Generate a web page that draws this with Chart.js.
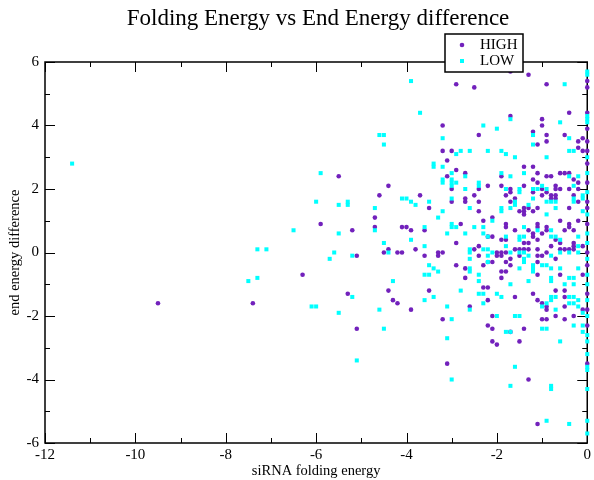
<!DOCTYPE html>
<html>
<head>
<meta charset="utf-8">
<script src="https://cdn.jsdelivr.net/npm/chart.js@4/dist/chart.umd.min.js"></script>
<style>
  html, body { margin: 0; padding: 0; background: #fff; }
  #wrap { width: 594px; height: 480px; }
</style>
</head>
<body>
<div id="wrap"><canvas id="c" width="594" height="480"></canvas></div>
<script>
// values: [siRNA folding energy, end energy difference]
const highPts = [
  [-9.5,-1.6],[-7.4,-1.6],
  [-3.2,4.0],[-3.2,3.2],[-3.1,2.9],[-5.5,2.4],[-3.1,2.4],[-4.4,2.1],[-4.6,1.8],[-3.7,1.8],[-3.5,1.4],
  [-4.7,1.1],[-5.9,0.9],[-5.2,0.7],[-4.7,0.8],[-4.1,0.8],[-4.0,0.8],[-3.9,0.7],[-3.6,0.7],[-4.4,0.1],[-3.8,0.1],
  [-5.1,-0.1],[-4.5,0.0],[-4.2,0.0],[-4.1,0.0],[-3.6,-0.1],[-3.3,0.0],[-3.2,0.0],[-3.3,-0.1],[-6.3,-0.7],
  [-5.3,-1.3],[-4.4,-1.2],[-3.5,-1.2],[-4.3,-1.5],[-4.2,-1.6],[-3.9,-1.8],[-3.2,-2.1],[-5.1,-2.4],[-3.1,-3.5],
  [-1.7,5.7],[-1.3,5.6],[-2.9,5.3],[-2.5,5.2],[-0.9,5.3],[-0.4,4.4],[-1.7,4.3],[-1.0,4.2],[-1.0,4.0],
  [-1.2,3.8],[-2.4,3.7],[-0.9,3.7],[-0.5,3.7],[-0.1,3.6],
  [-1.1,3.4],[-0.9,3.5],[-0.2,3.5],[-0.2,3.3],[-3.0,3.2],[-0.1,3.2],[-2.9,2.6],[-2.7,2.5],[-3.0,2.0],
  [-2.4,2.0],[-2.2,2.1],[-1.9,2.4],[-1.9,2.1],[-1.7,2.0],[-1.7,1.9],[-1.4,2.7],[-1.2,2.7],[-1.1,2.5],
  [-1.2,2.3],[-1.1,2.2],[-0.9,2.4],[-0.8,2.4],[-0.6,2.5],[-0.5,2.5],[-0.4,2.5],[-0.3,2.3],[-0.2,2.2],
  [-1.4,2.1],[-1.2,1.9],[-1.0,2.0],[-0.9,1.9],[-0.7,2.1],[-0.7,2.0],[-0.7,1.8],[-0.6,2.0],[-0.4,2.0],
  [-0.2,2.0],[-0.3,1.8],[-2.5,1.8],[-3.0,1.6],[-2.7,1.7],[-2.7,1.6],[-2.4,1.6],[-1.8,1.8],[-1.6,1.7],
  [-1.7,1.6],[-1.0,1.8],[-0.8,1.8],[-0.8,1.7],[-0.7,1.7],[-0.2,1.6],[-2.4,1.3],[-1.5,1.3],[-1.4,1.4],
  [-1.4,1.3],[-1.4,1.2],[-1.3,1.4],[-1.2,1.3],[-1.1,1.4],[-0.4,1.4],[-2.3,1.0],[-2.1,1.1],[-1.8,0.9],
  [-1.8,0.8],[-2.8,0.9],[-2.2,0.5],[-2.1,0.5],[-1.6,0.7],[-1.3,0.7],[-1.2,0.6],[-1.1,0.9],[-1.1,0.8],
  [-1.0,0.6],[-0.9,0.8],[-0.9,0.7],[-0.6,1.0],[-0.5,0.7],[-0.4,0.9],[-0.4,0.8],[-0.3,0.7],[-0.2,1.0],
  [-1.9,0.4],[-1.8,0.4],[-1.4,0.3],[-1.3,0.3],[-1.2,0.5],[-1.1,0.4],[-0.7,0.4],[-0.6,0.3],[-0.3,0.3],
  [-0.3,0.2],[-2.9,0.3],[-2.4,0.2],[-2.5,0.1],[-2.4,-0.1],[-2.0,0.0],[-1.9,0.0],[-1.8,0.0],[-2.0,-0.1],
  [-1.9,-0.1],[-1.6,0.1],[-1.5,0.1],[-1.4,0.1],[-1.3,0.1],[-1.5,-0.1],[-1.1,0.1],[-1.1,-0.1],[-1.0,-0.1],
  [-0.9,0.0],[-0.8,0.2],[-0.7,-0.2],[-0.6,0.1],[-0.5,0.1],[-0.4,0.1],[-0.3,0.1],[-0.1,0.2],[-2.2,-0.3],
  [-2.1,-0.3],[-2.3,-0.4],[-1.7,-0.2],[-1.7,-0.4],[-1.8,-0.3],[-1.1,-0.3],[-1.1,-0.7],[-0.6,-0.7],
  [-0.1,-0.7],[-2.9,-0.4],[-2.7,-0.5],[-2.7,-0.8],[-1.9,-0.6],[-1.8,-0.6],[-1.9,-0.8],[-2.3,-1.1],
  [-2.2,-1.1],[-0.7,-1.2],[-0.5,-1.2],[-0.5,-1.4],[-1.6,-1.4],[-1.2,-1.3],[-1.1,-1.5],[-1.0,-1.6],
  [-0.9,-1.7],[-0.9,-1.8],[-2.2,-1.5],[-2.6,-1.7],[-0.5,-1.7],[-0.5,-2.1],[-0.1,-1.8],[-2.1,-2.0],
  [-1.0,-2.1],[-0.9,-2.1],[-0.7,-2.0],[-0.3,-2.0],[-2.2,-2.3],[-2.1,-2.4],[-1.4,-2.4],[-1.7,-2.5],
  [-2.1,-2.8],[-2.0,-2.9],[-1.5,-2.8],[-1.3,-4.0],[-1.1,-5.4],
  [0,5.4],[0,5.2],[0,4.4],[0,3.9],[0,3.5],[0,3.2],[0,2.8],[0,2.2],[0,1.6],[0,1.4],[0,0.9],[0,0.0],
  [0,-0.4],[0,-1.3],[0,-1.8],[0,-2.3],[0,-3.5]
];
const lowPts = [
  [-11.4,2.8],[-6.5,0.7],[-7.3,0.1],[-7.1,0.1],[-7.5,-0.9],[-7.3,-0.8],
  [-3.9,5.4],[-3.7,4.4],[-3.2,3.6],[-4.6,3.7],[-4.5,3.7],[-4.5,3.4],[-3.4,2.8],[-3.4,2.7],[-3.2,2.7],
  [-5.9,2.5],[-3.2,2.3],[-3.2,2.2],[-4.1,1.7],[-4.0,1.7],[-6.0,1.6],[-3.9,1.6],[-3.5,1.6],[-5.5,1.5],
  [-5.3,1.6],[-5.3,1.5],[-3.8,1.5],[-4.7,1.4],[-3.2,1.3],[-3.3,1.1],[-4.7,0.7],[-3.6,0.8],[-5.5,0.6],
  [-3.1,0.6],[-3.9,0.4],[-4.5,0.3],[-3.6,0.2],
  [-5.6,0.0],[-5.7,-0.2],[-5.2,-0.1],[-4.4,0.0],[-3.5,-0.4],[-3.4,-0.5],[-3.6,-0.7],[-3.5,-0.7],
  [-3.3,-0.6],[-4.3,-0.9],[-5.2,-1.4],[-3.6,-1.5],[-3.4,-1.4],[-6.1,-1.7],[-6.0,-1.7],[-5.5,-1.9],
  [-4.6,-1.8],[-3.1,-1.7],[-4.5,-2.4],[-3.1,-2.7],[-5.1,-3.4],
  [-1.7,4.2],[-0.5,5.3],[-0.6,4.1],[-2.3,4.0],[-2.0,3.9],[-1.2,3.7],[-0.4,3.6],
  [-1.2,3.4],[-2.9,3.1],[-2.8,3.2],[-2.6,3.2],[-2.2,3.2],[-1.9,3.2],[-1.8,3.1],[-1.6,3.0],[-0.9,3.0],
  [-0.4,3.2],[-0.3,3.2],[-3.0,2.5],[-2.7,2.4],[-3.0,2.3],[-3.0,2.2],[-3.0,2.1],[-2.9,2.2],[-2.7,2.0],
  [-2.4,2.2],[-2.4,2.1],[-1.9,2.5],[-1.7,2.4],[-1.8,2.0],[-1.5,2.0],[-1.5,1.9],[-1.4,2.5],[-0.4,2.4],
  [-0.2,2.4],[-1.2,2.0],[-1.1,2.0],[-1.0,2.1],[-0.9,2.0],[-0.3,2.1],[-0.1,1.8],[-3.0,1.7],[-1.6,1.6],
  [-1.6,1.5],[-1.7,1.4],[-1.2,1.7],[-1.3,1.5],[-0.9,1.6],[-0.8,1.6],[-0.7,1.6],[-0.3,1.7],[-0.3,1.6],
  [-0.1,1.7],[-2.6,1.4],[-1.9,1.4],[-1.9,1.3],[-0.9,1.2],[-0.7,1.4],[-0.1,1.3],[-2.1,1.0],[-3.0,0.9],
  [-2.9,0.8],[-3.0,0.8],[-2.5,0.8],[-2.3,0.8],[-2.7,0.6],[-2.3,0.6],[-1.4,0.8],[-1.5,0.5],[-1.4,0.5],
  [-1.1,0.7],[-0.8,0.7],[-0.7,0.5],[-0.2,0.5],
  [-2.2,0.5],[-1.8,0.5],[-1.8,0.2],[-1.5,0.4],[-0.8,0.5],[-0.6,0.4],[-2.6,0.1],[-2.6,0.0],[-2.6,-0.2],
  [-2.3,0.1],[-2.2,0.1],[-2.2,-0.1],[-2.2,-0.3],[-2.1,0.0],[-1.7,0.0],[-1.5,0.0],[-1.4,0.0],[-1.3,-0.1],
  [-0.8,-0.1],[-0.6,0.0],[-0.4,0.0],[-0.2,0.0],[-0.2,0.2],[-1.5,-0.5],[-1.4,-0.2],[-1.4,-0.3],[-1.2,-0.4],
  [-1.2,-0.5],[-1.2,-0.6],[-1.0,-0.4],[-0.9,-0.4],[-0.8,-0.5],[-0.8,-0.8],[-0.8,-0.9],[-0.6,-0.5],
  [-0.2,-0.5],[-2.6,-0.5],[-2.6,-0.6],[-2.4,-0.7],[-2.4,-0.9],[-1.7,-1.0],[-1.3,-0.9],[-0.4,-0.8],
  [-0.3,-0.8],[-0.5,-1.0],[-0.3,-1.0],[-2.4,-1.3],[-2.3,-1.3],[-2.8,-1.2],[-2.0,-1.3],[-1.9,-1.4],
  [-0.8,-1.4],[-0.8,-1.5],[-0.7,-1.4],[-0.9,-1.6],[-1.0,-1.7],[-0.4,-1.4],[-0.4,-1.6],[-0.3,-1.4],
  [-0.3,-1.6],[-0.2,-1.5],[-2.3,-1.6],[-2.6,-1.8],[-0.7,-1.8],[-0.2,-1.7],[-3.0,-2.1],[-2.0,-2.0],
  [-1.6,-2.0],[-1.5,-2.0],[-0.1,-1.9],[-0.1,-2.3],[-1.0,-2.4],[-0.9,-2.4],[-0.3,-2.3],[-1.8,-2.5],
  [-1.7,-2.5],[-0.1,-2.5],
  [-0.6,-2.8],[-3.0,-4.0],[-1.6,-3.6],[-1.7,-4.2],[-0.8,-4.2],[-0.8,-4.3],[-0.9,-5.3],[-0.4,-5.4],
  [0,5.7],[0,5.6],[0,4.3],[0,4.2],[0,4.1],[0,3.0],[0,2.5],[0,1.9],[0,1.2],[0,0.6],[0,0.3],[0,-0.2],
  [0,-0.7],[0,-1.0],[0,-1.5],[0,-2.0],[0,-2.6],[0,-2.8],[0,-3.2],[0,-3.6],[0,-3.7],[0,-4.3],[0,-5.3],[0,-5.7]
];
const seriesNames = ['HIGH', 'LOW'];
const xTicks = [-12, -10, -8, -6, -4, -2, 0];
const yTicks = [-6, -4, -2, 0, 2, 4, 6];

const PURPLE = 'rgb(114,33,188)';
const CYAN = 'rgb(0,255,255)';
const SERIF = '"Liberation Serif", "DejaVu Serif", serif';

function toXY(pts) {
  return pts.map(p => ({ x: p[0], y: p[1] }));
}

// xmgrace-like frame with inward ticks, title and legend box
const gracePlugin = {
  id: 'grace',
  beforeDatasetsDraw(chart) {
    const { ctx, chartArea: a, scales } = chart;
    const sx = scales.x, sy = scales.y;
    ctx.save();
    ctx.strokeStyle = '#000';
    ctx.lineWidth = 1.5;
    ctx.strokeRect(a.left, a.top, a.right - a.left, a.bottom - a.top);
    ctx.lineWidth = 1;
    ctx.beginPath();
    for (let v = -12; v <= 0; v++) {
      const px = Math.round(sx.getPixelForValue(v)) + 0.5;
      const len = v % 2 === 0 ? 10 : 5;
      ctx.moveTo(px, a.bottom); ctx.lineTo(px, a.bottom - len);
      ctx.moveTo(px, a.top); ctx.lineTo(px, a.top + len);
    }
    for (let v = -6; v <= 6; v++) {
      const py = Math.round(sy.getPixelForValue(v)) + 0.5;
      const len = v % 2 === 0 ? 10 : 5;
      ctx.moveTo(a.left, py); ctx.lineTo(a.left + len, py);
      ctx.moveTo(a.right, py); ctx.lineTo(a.right - len, py);
    }
    ctx.stroke();
    ctx.restore();
  },
  afterDraw(chart) {
    const { ctx } = chart;
    ctx.save();
    ctx.fillStyle = '#000';
    ctx.font = '23px ' + SERIF;
    ctx.textAlign = 'center';
    ctx.textBaseline = 'alphabetic';
    ctx.fillText('Folding Energy vs End Energy difference', 318, 25);

    // legend
    ctx.fillStyle = '#fff';
    ctx.fillRect(445, 34, 78, 38);
    ctx.strokeStyle = '#000';
    ctx.lineWidth = 1.5;
    ctx.strokeRect(445, 34, 78, 38);
    ctx.fillStyle = PURPLE;
    ctx.beginPath();
    ctx.arc(462, 45, 2.3, 0, Math.PI * 2);
    ctx.fill();
    ctx.fillStyle = CYAN;
    ctx.fillRect(460, 59, 4, 4);
    ctx.fillStyle = '#000';
    ctx.font = '15px ' + SERIF;
    ctx.textAlign = 'left';
    ctx.textBaseline = 'middle';
    ctx.fillText(seriesNames[0], 480, 45.5);
    ctx.fillText(seriesNames[1], 480, 61);
    ctx.restore();
  }
};

new Chart(document.getElementById('c'), {
  type: 'scatter',
  data: {
    datasets: [
      {
        label: seriesNames[0],
        data: toXY(highPts),
        pointStyle: 'circle',
        pointRadius: 2.3,
        pointBorderWidth: 0,
        backgroundColor: PURPLE,
        borderColor: PURPLE,
        order: 1,
        clip: false
      },
      {
        label: seriesNames[1],
        data: toXY(lowPts),
        pointStyle: 'rect',
        pointRadius: 2.85,
        pointBorderWidth: 0,
        backgroundColor: CYAN,
        borderColor: CYAN,
        order: 0,
        clip: false
      }
    ]
  },
  options: {
    responsive: false,
    animation: false,
    events: [],
    layout: { padding: { top: 62, right: 5, left: 0, bottom: 0 } },
    plugins: {
      legend: { display: false },
      title: { display: false },
      tooltip: { enabled: false }
    },
    scales: {
      x: {
        type: 'linear',
        min: -12, max: 0,
        afterBuildTicks: s => { s.ticks = xTicks.map(v => ({ value: v })); },
        afterFit: s => { s.height = 37; },
        grid: { display: false, drawTicks: false },
        border: { display: false },
        ticks: { color: '#000', padding: 3, font: { family: SERIF, size: 15 } },
        title: {
          display: true, text: 'siRNA folding energy', color: '#000',
          font: { family: SERIF, size: 14.5 }, padding: { top: 0, bottom: 0 }
        }
      },
      y: {
        type: 'linear',
        min: -6, max: 6,
        afterBuildTicks: s => { s.ticks = yTicks.map(v => ({ value: v })); },
        afterFit: s => { s.width = 45; },
        grid: { display: false, drawTicks: false },
        border: { display: false },
        ticks: { color: '#000', padding: 6, font: { family: SERIF, size: 15 } },
        title: {
          display: true, text: 'end energy difference', color: '#000',
          font: { family: SERIF, size: 14.5 }, padding: { top: 6, bottom: 0 }
        }
      }
    }
  },
  plugins: [gracePlugin]
});
</script>
</body>
</html>
